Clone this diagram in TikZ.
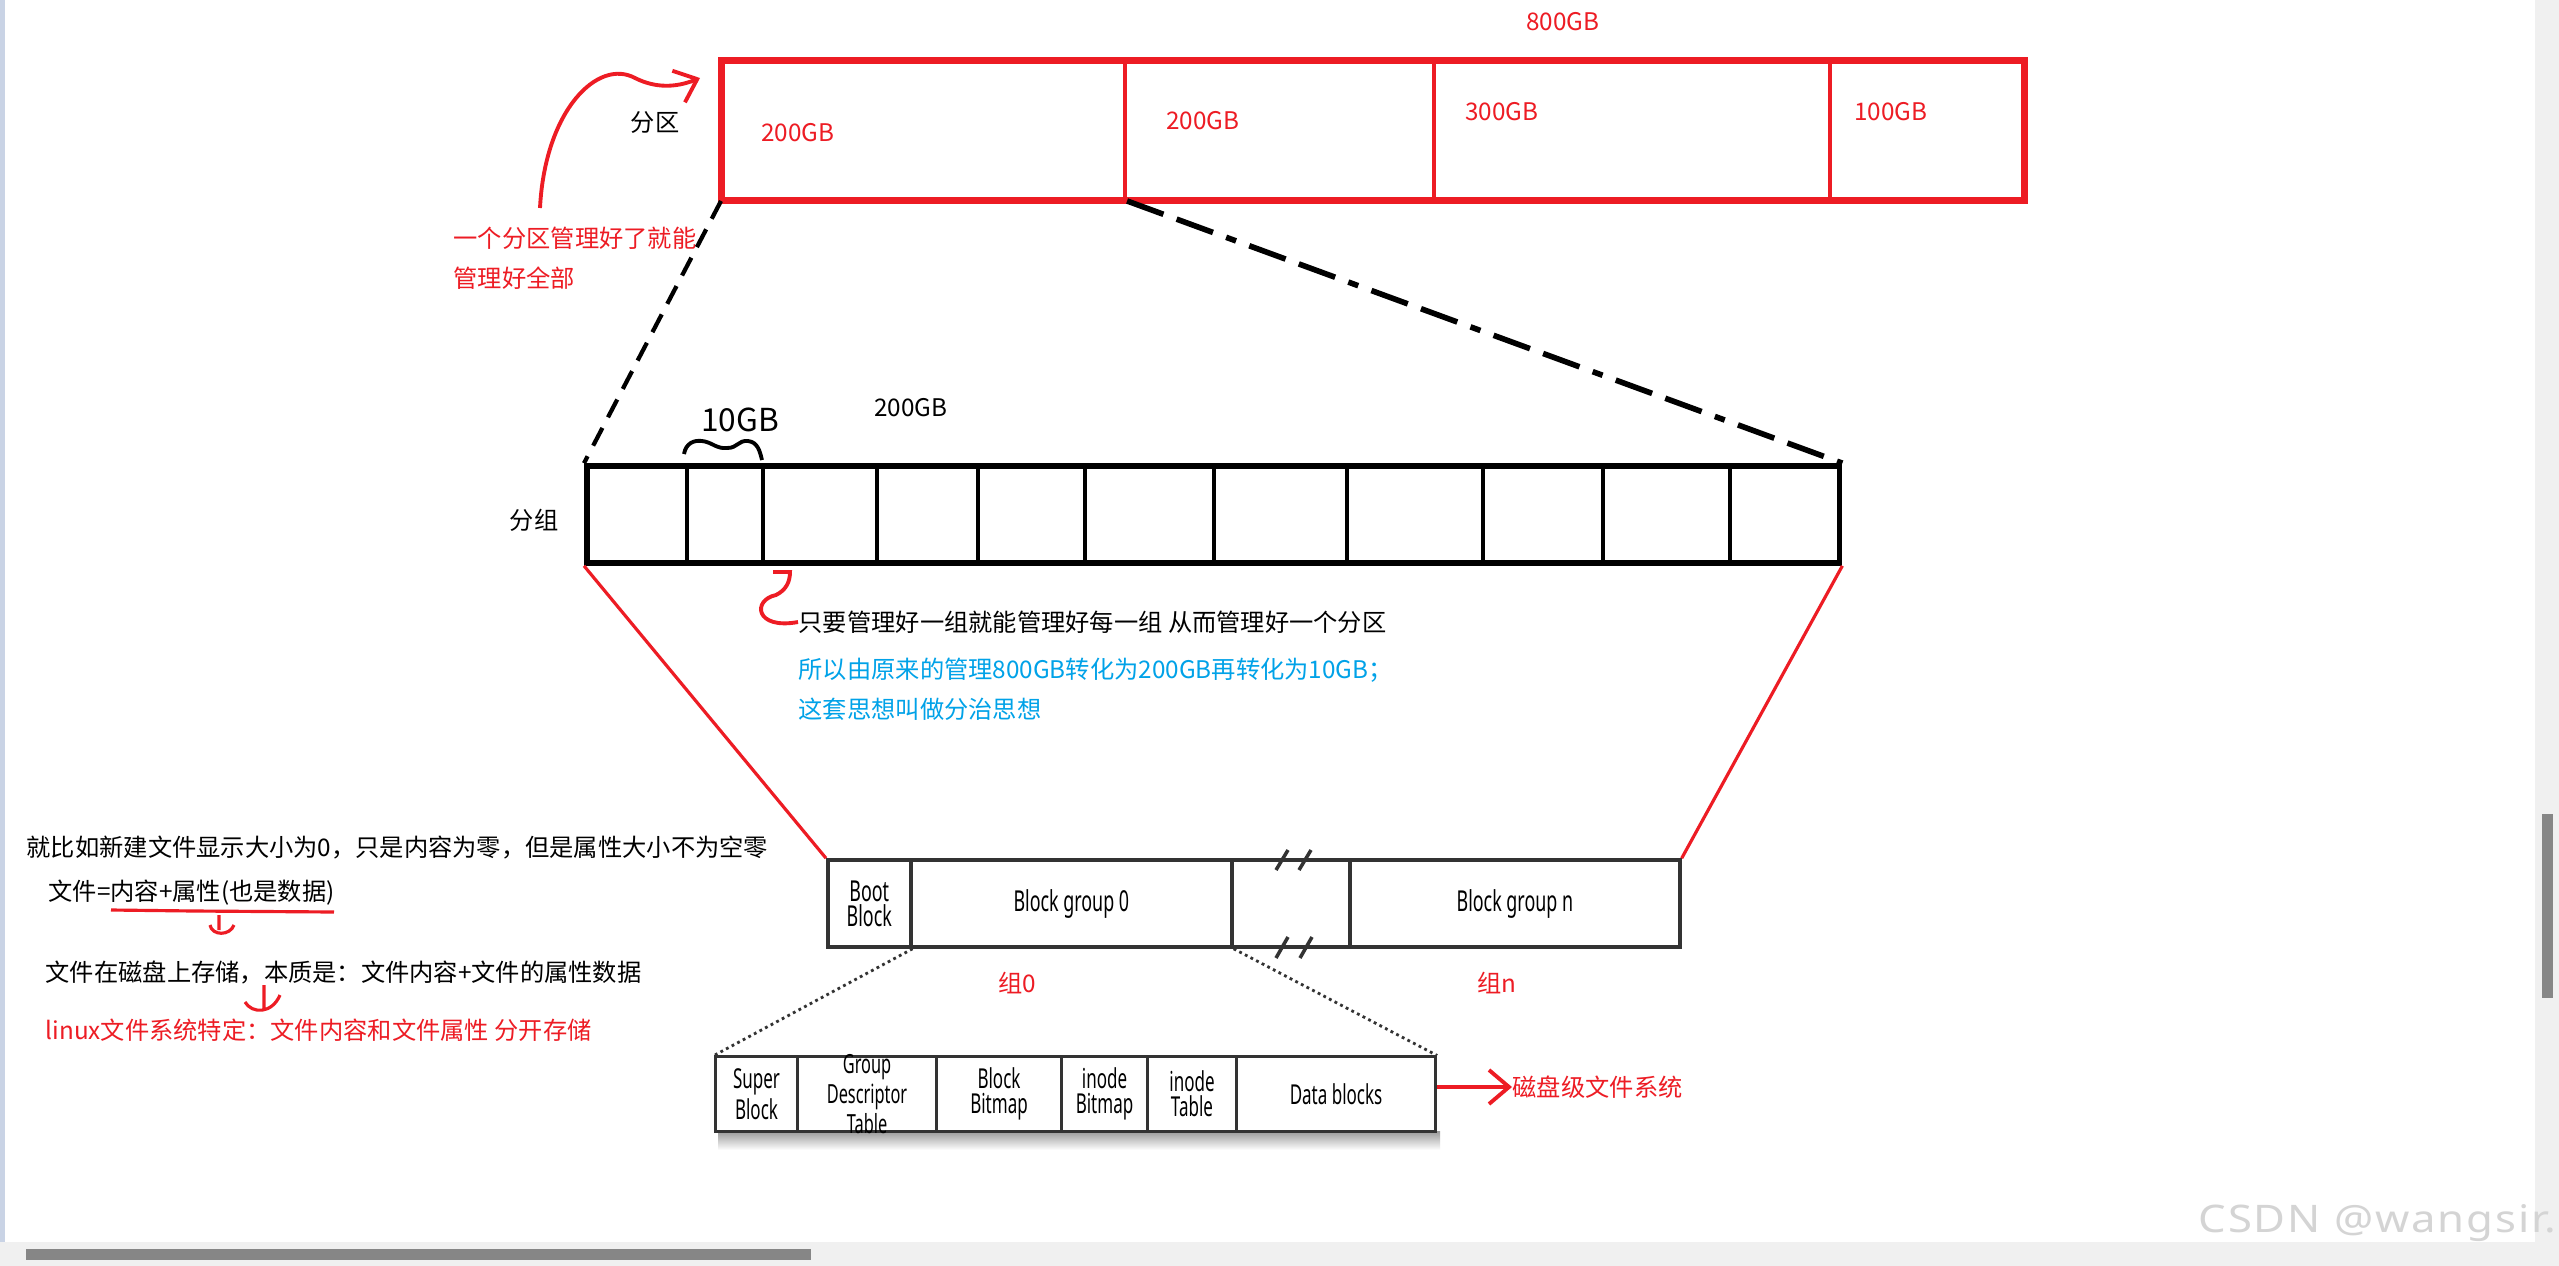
\documentclass[tikz,border=0pt]{standalone}
\usepackage{fontspec}
\setmainfont{Noto Sans CJK SC}
\newfontfamily\condfont[FakeStretch=0.62]{Noto Sans}
\newfontfamily\markfont[FakeStretch=1.15,LetterSpace=5]{Noto Sans}
\usetikzlibrary{arrows.meta}
\usetikzlibrary{calc}
\definecolor{pen}{HTML}{ED1C24}
\definecolor{sky}{HTML}{00A2E8}
\definecolor{ink}{HTML}{333333}
\definecolor{chrome}{HTML}{F0F0F0}
\definecolor{thumb}{HTML}{868686}
\definecolor{rail}{HTML}{C9D3E5}

\begin{document}
\begin{tikzpicture}[x=0.01cm, y=-0.01cm, >=stealth,
  txt/.style={inner sep=0pt, font=\fontsize{6.9}{8}\selectfont},
  pcell/.style={draw=pen, line width=1.1pt, minimum height=1.37cm, inner sep=0pt, anchor=west},
  bcell/.style={draw=ink, line width=1pt, minimum height=0.87cm, inner sep=0pt, anchor=west, align=center, font=\condfont\fontsize{8.2}{7.2}\selectfont},
  scell/.style={draw=ink, line width=0.85pt, minimum height=0.74cm, inner sep=0pt, anchor=west, align=center, font=\condfont\fontsize{7.8}{7.1}\selectfont},
  penarrow/.style={-{Straight Barb[length=2mm,width=3.4mm]}},
  ]
\fill[white] (0,0) rectangle (2559,1266);
\useasboundingbox (0,0) rectangle (2559,1266);
\fill[rail] (0,0) rectangle (5,1242);
\fill[chrome] (2535,0) rectangle (2559,1242);
\fill[chrome] (0,1242) rectangle (2559,1266);
\fill[thumb] (26,1249) rectangle (811,1260);
\fill[thumb] (2542,814) rectangle (2553,998);

% partition
\node[pcell, minimum width=4.02cm] (p1) at (721,130.5) {};
\node[pcell, minimum width=3.09cm] (p2) at (1123,130.5) {};
\node[pcell, minimum width=3.96cm] (p3) at (1432,130.5) {};
\node[pcell, minimum width=1.93cm] (p4) at (1828,130.5) {};
\draw[pen, line width=1.8pt] (p1.north west) rectangle (p4.south east);
\node[txt, text=pen] (800) at (1563,22) {800GB};
\node[txt, text=pen] (s1) at (798,133) {200GB};
\node[txt, text=pen] (s2) at (1203,121) {200GB};
\node[txt, text=pen] (s3) at (1502,112) {300GB};
\node[txt, text=pen] (s4) at (1891,112) {100GB};
\node[txt] (fq) at (655,123) {分区};
\node[txt, text=pen, anchor=west, align=left, font=\fontsize{6.9}{11.4}\selectfont] (note1) at (453,258) {一个分区管理好了就能\\管理好全部};
\coordinate (a0) at (540,208);
\coordinate (a1) at (700,78);
\draw[pen, line width=1.1pt, penarrow] (a0) .. controls (545,110) and (598,58) .. (635,78) .. controls (655,88) and (675,88) .. (a1);

% groups
\node[draw, line width=1.6pt, minimum width=12.52cm, minimum height=0.97cm, inner sep=0pt, anchor=west] (grp) at (584,514.5) {};
\draw[line width=1.4pt] (687,466) -- (687,563) (763,466) -- (763,563) (877,466) -- (877,563)
  (978,466) -- (978,563) (1085,466) -- (1085,563) (1214,466) -- (1214,563) (1347,466) -- (1347,563)
  (1483,466) -- (1483,563) (1603,466) -- (1603,563) (1730,466) -- (1730,563);
\draw[line width=1.1pt] (684,454) .. controls (686,443) and (694,440) .. (702,441) .. controls (712,442) and (716,449) .. (727,448) .. controls (738,448) and (738,440) .. (748,441) .. controls (758,442) and (760,452) .. (762,460);
\node[inner sep=0pt, font=\fontsize{9}{10}\selectfont] (ten) at (740,420) {10GB};
\node[txt] (200) at (911,408) {200GB};
\node[txt] (fz) at (534,520) {分组};
\draw[line width=1.2pt, dash pattern=on 5.7pt off 3.4pt] (p1.south west) -- (grp.north west);
\draw[line width=1.6pt, dash pattern=on 11pt off 4pt on 11pt off 4pt on 3pt off 4pt] (p1.south east) -- (grp.north east);

\node[txt, anchor=west] (t1) at (798,622) {只要管理好一组就能管理好每一组 从而管理好一个分区};
\node[txt, anchor=west, text=sky] (t2) at (798,670) {所以由原来的管理800GB转化为200GB再转化为10GB；};
\node[txt, anchor=west, text=sky] (t3) at (798,709) {这套思想叫做分治思想};
\coordinate (c0) at (773,572);
\draw[pen, line width=1.1pt] (t1.west) .. controls (755,630) and (752,600) .. (776,595) .. controls (786,590) and (790,582) .. (790,572) -- (c0);

% block groups
\node[bcell, minimum width=0.83cm] (bb) at (826,903.5) {Boot\\Block};
\node[bcell, minimum width=3.21cm] (bg0) at (909,903.5) {Block group 0};
\node[bcell, minimum width=1.18cm] (gap) at (1230,903.5) {};
\node[bcell, minimum width=3.30cm] (bgn) at (1348,903.5) {Block group n};
\draw[ink, line width=1pt] (1276,870) -- (1288,850) (1299,870) -- (1311,850)
  (1276,958) -- (1288,937) (1300,958) -- (1312,937);
\node[txt, text=pen] (z0) at (1017,983) {组0};
\node[txt, text=pen] (zn) at (1497,983) {组n};
\draw[pen, line width=0.9pt] (grp.south west) -- (bb.north west);
\draw[pen, line width=0.9pt] (grp.south east) -- (bgn.north east);

% one group
\shade[top color=black!40, bottom color=white] (718,1131) rectangle (1440,1150);
\node[scell, minimum width=0.82cm] (sb) at (714,1094) {Super\\Block};
\node[scell, minimum width=1.39cm] (gdt) at (796,1094) {};
\node[inner sep=0pt, align=center, font=\condfont\fontsize{7.5}{6.7}\selectfont] (gdtl) at (gdt.center) {Group\\Descriptor\\Table};
\node[scell, minimum width=1.25cm] (bbm) at (935,1094) {Block\\Bitmap};
\node[scell, minimum width=0.86cm] (ibm) at (1060,1094) {inode\\Bitmap};
\node[scell, minimum width=0.89cm] (itab) at (1146,1094) {inode\\Table};
\node[scell, minimum width=1.99cm] (db) at (1235,1094) {Data blocks};
\draw[ink, line width=0.8pt, densely dotted] (bb.south east) -- (sb.north west);
\draw[ink, line width=0.8pt, densely dotted] (bg0.south east) -- (db.north east);
\node[txt, anchor=west, text=pen] (fs) at (1512,1087) {磁盘级文件系统};
\draw[pen, line width=1.1pt, penarrow] (fs.west -| db.east) -- (fs.west);

% file
\node[txt, anchor=west] (f1) at (26,848) {就比如新建文件显示大小为0，只是内容为零，但是属性大小不为空零};
\node[txt, anchor=west] (f2) at (48,893) {文件=内容+属性(也是数据)};
\draw[pen, line width=0.9pt] (111,910) -- (194,911) -- (334,912);
\draw[pen, line width=0.9pt] (219,915) -- (219,930) (210,925) .. controls (212,936) and (230,936) .. (234,925);
\node[txt, anchor=west] (f3) at (45,972) {文件在磁盘上存储，本质是：文件内容+文件的属性数据};
\draw[pen, line width=0.9pt] (264,985) -- (264,1010) (245,1002) .. controls (252,1014) and (272,1014) .. (280,995);
\node[txt, anchor=west, text=pen] (f4) at (45,1030) {linux文件系统特定：文件内容和文件属性 分开存储};

\node[inner sep=0pt, anchor=base east, text=black!17, font=\markfont\fontsize{10.8}{12}\selectfont] (mark) at (2557,1232) {CSDN @wangsir.};
\end{tikzpicture}
\end{document}
